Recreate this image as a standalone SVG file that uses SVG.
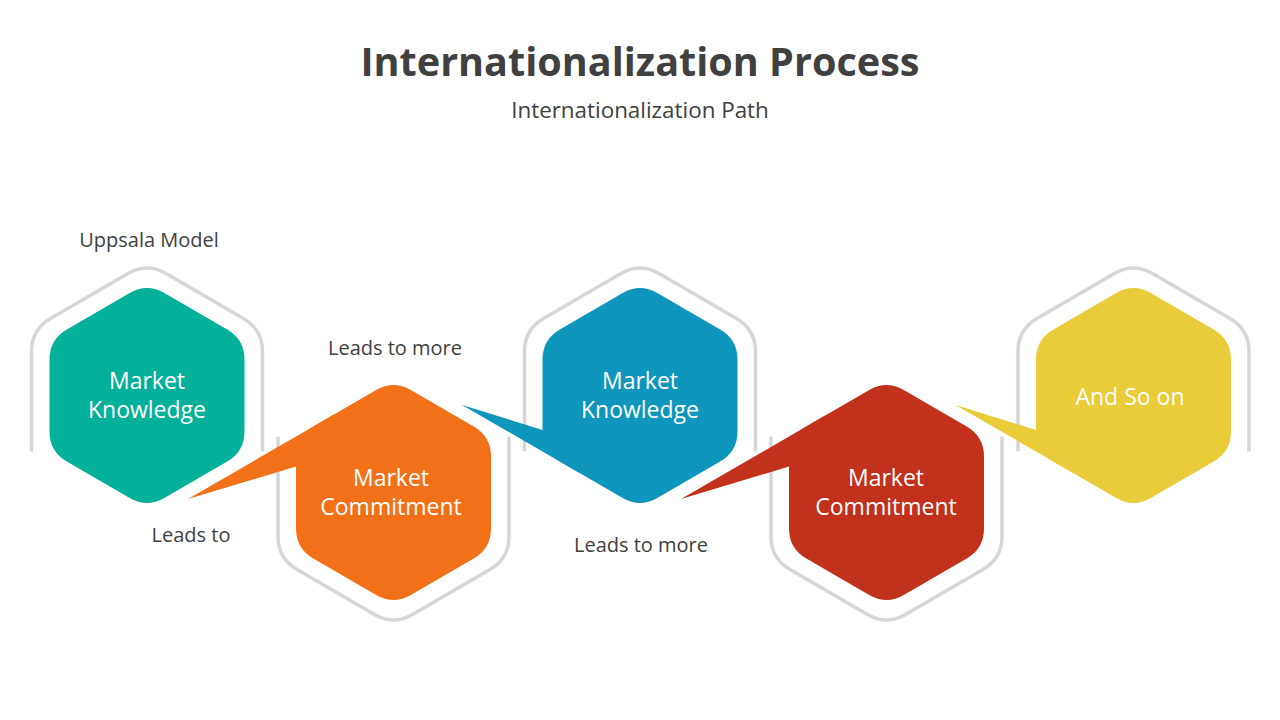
<svg xmlns="http://www.w3.org/2000/svg" width="1280" height="720" viewBox="0 0 1280 720">
  <defs>
    <style>
      .title { font-family: "Open Sans", "Noto Sans", "Liberation Sans", sans-serif; font-weight: 700; font-size: 39.6px; fill: #404040; text-anchor: middle; }
      .sub { font-family: "Open Sans", "Noto Sans", "Liberation Sans", sans-serif; font-size: 22.4px; fill: #404040; text-anchor: middle; }
      .lbl { font-family: "Open Sans", "Noto Sans", "Liberation Sans", sans-serif; font-size: 20px; fill: #404040; text-anchor: middle; }
      .node { font-family: "Open Sans", "Noto Sans", "Liberation Sans", sans-serif; font-size: 23px; fill: #ffffff; text-anchor: middle; }
      .frame { fill: none; stroke: #D9D5D6; stroke-width: 3.5; stroke-linecap: butt; }
    </style>
    <path id="hex" d="M 17.3,-102.47 L 80.2,-66.03 Q 97.5,-56 97.5,-36 L 97.5,36 Q 97.5,56 80.2,66.03 L 17.3,102.47 Q 0,112.5 -17.3,102.47 L -80.2,66.03 Q -97.5,56 -97.5,36 L -97.5,-36 Q -97.5,-56 -80.2,-66.03 L -17.3,-102.47 Q 0,-112.5 17.3,-102.47 Z"/>
    <path id="frameTop" d="M -115.5,56 L -115.5,-44 Q -115.5,-66 -96.47,-76.96 L -19.03,-121.96 Q 0,-133 19.03,-121.96 L 96.47,-76.96 Q 115.5,-66 115.5,-44 L 115.5,56"/>
    <path id="tailUp" d="M -205.5,6.6 L -97.5,-56 L -60,-77.7 L -60,-26 L -97.5,-26 Z"/>
    <path id="tailDown" d="M -178,9.4 L -97.5,34.5 L -60,34.5 L -60,77.7 L -97.5,56 Z"/>
  </defs>

  <rect x="0" y="0" width="1280" height="720" fill="#ffffff"/>

  <text class="title" x="640" y="76">Internationalization Process</text>
  <text class="sub" x="640" y="118">Internationalization Path</text>

  <g id="frames">
    <use href="#frameTop" class="frame" transform="translate(147,395.5)"/>
    <use href="#frameTop" class="frame" transform="translate(393.5,492.5) scale(1,-1)"/>
    <use href="#frameTop" class="frame" transform="translate(640,395.5)"/>
    <use href="#frameTop" class="frame" transform="translate(886.5,492.5) scale(1,-1)"/>
    <use href="#frameTop" class="frame" transform="translate(1133.5,395.5)"/>
  </g>

  <g id="connectors">
    <use href="#tailUp" fill="#F27118" transform="translate(393.5,492.5)"/>
    <use href="#tailDown" fill="#0F96BC" transform="translate(640,395.5)"/>
    <use href="#tailUp" fill="#C1311B" transform="translate(886.5,492.5)"/>
    <use href="#tailDown" fill="#EACB39" transform="translate(1133.5,395.5)"/>
  </g>

  <g id="node-market-knowledge-1">
    <use href="#hex" fill="#03B09A" transform="translate(147,395.5)"/>
    <text class="node" x="147" y="389">Market</text>
    <text class="node" x="147" y="418">Knowledge</text>
  </g>
  <g id="node-market-commitment-1">
    <use href="#hex" fill="#F27118" transform="translate(393.5,492.5)"/>
    <text class="node" x="391" y="485.5">Market</text>
    <text class="node" x="391" y="514.5">Commitment</text>
  </g>
  <g id="node-market-knowledge-2">
    <use href="#hex" fill="#0F96BC" transform="translate(640,395.5)"/>
    <text class="node" x="640" y="389">Market</text>
    <text class="node" x="640" y="418">Knowledge</text>
  </g>
  <g id="node-market-commitment-2">
    <use href="#hex" fill="#C1311B" transform="translate(886.5,492.5)"/>
    <text class="node" x="886" y="485.5">Market</text>
    <text class="node" x="886" y="514.5">Commitment</text>
  </g>
  <g id="node-and-so-on">
    <use href="#hex" fill="#EACB39" transform="translate(1133.5,395.5)"/>
    <text class="node" x="1130" y="405">And So on</text>
  </g>

  <g id="labels">
    <text class="lbl" x="149" y="246.5">Uppsala Model</text>
    <text class="lbl" x="395" y="354.5">Leads to more</text>
    <text class="lbl" x="191" y="541.5">Leads to</text>
    <text class="lbl" x="641" y="551.5">Leads to more</text>
  </g>
</svg>
